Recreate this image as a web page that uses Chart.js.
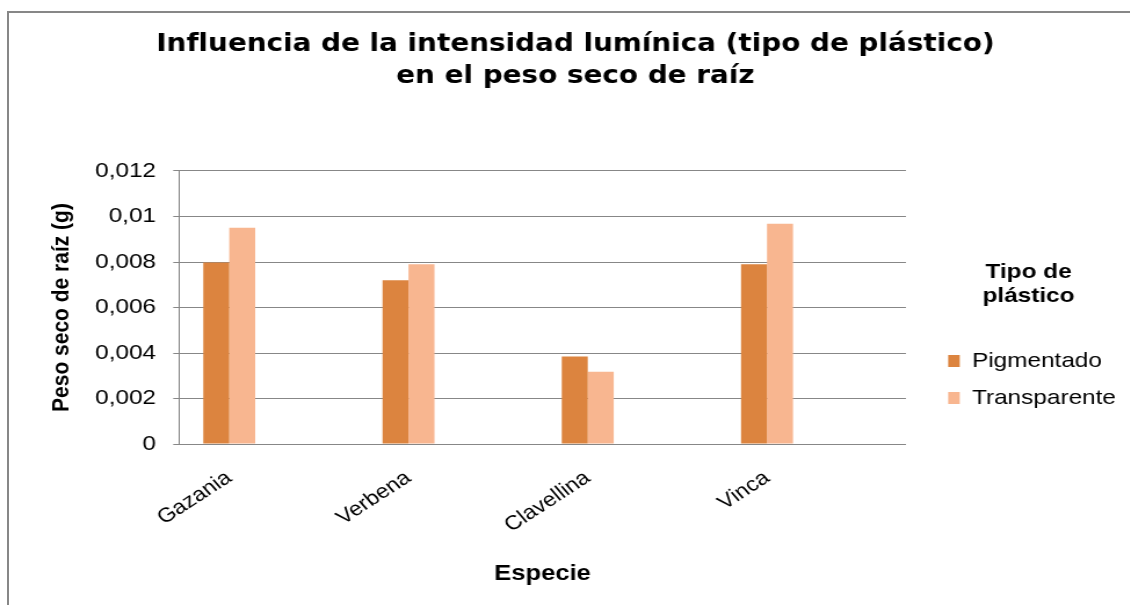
<!DOCTYPE html>
<html lang="es">
<head>
<meta charset="utf-8">
<title>Peso seco de raíz</title>
<script src="https://cdn.jsdelivr.net/npm/chart.js@4.4.1/dist/chart.umd.min.js"></script>
<style>
  html, body { margin: 0; padding: 0; background: #fff; overflow: hidden; }
  #frame { position: absolute; left: 7px; top: 11px; width: 1200px; height: 700px; border: 2px solid #878787; }
  /* chart is laid out narrow and widened on screen */
  #wrap { position: absolute; left: 0; top: 0; width: 974px; height: 605px; transform: scaleX(1.16); transform-origin: 0 0; }
</style>
</head>
<body>
<div id="frame"></div>
<div id="wrap"><canvas id="chart" width="974" height="605"></canvas></div>
<script>
const species = ['Gazania', 'Verbena', 'Clavellina', 'Vinca'];
const pigmentado = [0.00798, 0.0072, 0.00385, 0.0079];
const transparente = [0.0095, 0.0079, 0.00318, 0.00968];
const yTicks = [0, 0.002, 0.004, 0.006, 0.008, 0.01, 0.012];

const GRID = '#878787';
const FONT = "'Liberation Sans', Arial, sans-serif";

// bars sit on a linear x scale, one unit per species
const toPoints = values => values.map((v, i) => ({ x: i, y: v }));
const comma = v => String(Math.round(v * 1000) / 1000).replace('.', ',');

new Chart(document.getElementById('chart'), {
    type: 'bar',
    data: {
        datasets: [
            { label: 'Pigmentado', data: toPoints(pigmentado), backgroundColor: '#DC843F' },
            { label: 'Transparente', data: toPoints(transparente), backgroundColor: '#F8B690' }
        ]
    },
    options: {
        responsive: false,
        animation: false,
        events: [],
        layout: { padding: { left: 20, right: 2, top: 0, bottom: 0 } },
        datasets: { bar: { categoryPercentage: 0.29, barPercentage: 1, borderWidth: 0 } },
        scales: {
            x: {
                type: 'linear',
                offset: false,
                min: -0.28,
                max: 3.775,
                afterBuildTicks: s => { s.ticks = species.map((_, i) => ({ value: i })); },
                grid: { display: false, drawTicks: false },
                border: { display: true, color: GRID },
                ticks: {
                    autoSkip: false,
                    minRotation: 37,
                    maxRotation: 37,
                    padding: 22,
                    color: '#000',
                    font: { family: FONT, size: 20 },
                    callback: v => species[v]
                },
                title: {
                    display: true,
                    text: 'Especie',
                    color: '#000',
                    font: { family: FONT, size: 22, weight: 'bold' },
                    padding: { top: 1.4, bottom: 17.8 }
                }
            },
            y: {
                min: 0,
                max: 0.012,
                afterBuildTicks: s => { s.ticks = yTicks.map(v => ({ value: v })); },
                grid: { color: GRID, tickLength: 5 },
                border: { color: GRID },
                ticks: {
                    padding: 14.8,
                    color: '#000',
                    font: { family: FONT, size: 21 },
                    callback: v => comma(v)
                },
                title: {
                    display: true,
                    text: 'Peso seco de raíz (g)',
                    color: '#000',
                    font: { family: FONT, size: 21, weight: 'bold' },
                    padding: { top: 20.4, bottom: 1.6 }
                }
            },
            // empty axis that leaves a gap between plot and legend
            gap: {
                axis: 'y',
                type: 'linear',
                position: 'right',
                grid: { display: false, drawTicks: false },
                border: { display: false },
                ticks: { display: false },
                afterFit: s => { s.width = 20.4; }
            }
        },
        plugins: {
            title: {
                display: true,
                text: ['Influencia de la intensidad lumínica (tipo de plástico)', 'en el peso seco de raíz'],
                color: '#000',
                font: { family: "'DejaVu Sans', sans-serif", size: 24, weight: 'bold', lineHeight: 1.333 },
                padding: { top: 29, bottom: 78 }
            },
            legend: {
                position: 'right',
                align: 'start',
                maxWidth: 220,
                title: {
                    display: true,
                    text: ['Tipo de', 'plástico'],
                    color: '#000',
                    font: { family: FONT, size: 21, weight: 'bold', lineHeight: 1.15 },
                    padding: { top: 261.5, bottom: 48.8 }
                },
                labels: {
                    color: '#000',
                    font: { family: FONT, size: 21 },
                    boxWidth: 10,
                    boxHeight: 12,
                    padding: 16
                }
            },
            tooltip: { enabled: false }
        }
    }
});
</script>
</body>
</html>
